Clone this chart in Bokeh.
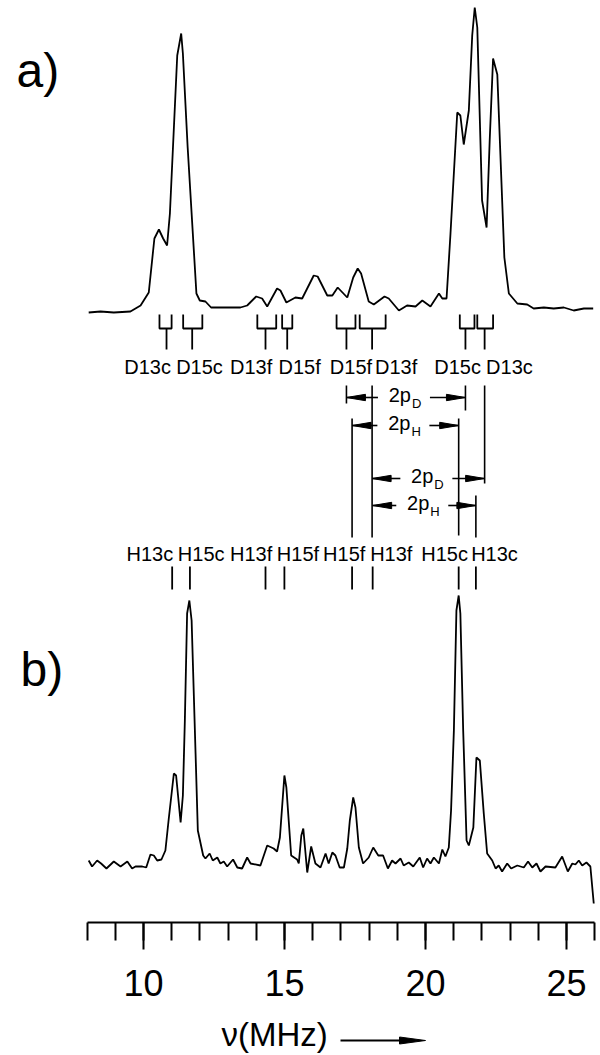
from bokeh.plotting import figure
from bokeh.models import Range1d, LinearAxis, SingleIntervalTicker
from bokeh.core.properties import value
from bokeh.embed import file_html
from bokeh.resources import INLINE

# ---------------- data ----------------
# spectrum a): frequency (MHz) and intensity (arbitrary units)
a_freq = [8.06, 8.48, 8.95, 9.54, 9.90, 10.19, 10.39, 10.55, 10.70, 10.84,
          10.94, 11.20, 11.34, 11.40, 11.57, 11.88, 12.00, 12.20, 12.40, 12.85,
          13.44, 13.68, 14.00, 14.21, 14.39, 14.74, 14.86, 15.07, 15.39, 15.63,
          16.04, 16.18, 16.52, 16.70, 16.89, 17.23, 17.44, 17.60, 17.72, 17.99,
          18.17, 18.55, 18.70, 19.06, 19.35, 19.65, 19.89, 20.18, 20.48, 20.60,
          20.75, 20.89, 21.13, 21.24, 21.36, 21.54, 21.66, 21.75, 21.84, 22.01,
          22.17, 22.28, 22.40, 22.55, 22.80, 22.96, 23.26, 23.61, 23.84, 24.20,
          24.55, 24.91, 25.26, 25.62, 25.95]
a_int = [0, 1, 0, 1, 7, 20, 74, 83, 74, 67,
         99, 257, 279, 259, 165, 19, 12, 11, 5, 5,
         5, 7, 16, 14, 6, 24, 22, 10, 15, 14,
         37, 36, 17, 17, 25, 15, 35, 44, 39, 11,
         8, 16, 14, 2, 7, 6, 12, 6, 19, 14,
         14, 79, 200, 197, 168, 202, 277, 305, 285, 112,
         85, 172, 254, 238, 55, 19, 9, 8, 4, 5,
         4, 5, 2, 4, 4]

# spectrum b)
b_freq = [8.06, 8.18, 8.36, 8.50, 8.69, 8.95, 9.19, 9.43, 9.60, 9.72,
          9.96, 10.10, 10.25, 10.37, 10.49, 10.64, 10.78, 10.90, 11.08, 11.16,
          11.32, 11.40, 11.47, 11.55, 11.63, 11.71, 11.85, 11.93, 12.12, 12.20,
          12.35, 12.46, 12.62, 12.73, 12.85, 12.97, 13.18, 13.33, 13.50, 13.68,
          13.80, 14.15, 14.39, 14.62, 14.74, 14.84, 15.00, 15.07, 15.24, 15.45,
          15.51, 15.60, 15.67, 15.81, 15.95, 16.10, 16.28, 16.46, 16.57, 16.70,
          16.81, 16.96, 17.11, 17.23, 17.32, 17.44, 17.52, 17.64, 17.79, 17.99,
          18.15, 18.33, 18.50, 18.67, 18.82, 18.94, 19.12, 19.23, 19.41, 19.57,
          19.80, 19.92, 20.06, 20.18, 20.30, 20.48, 20.60, 20.71, 20.83, 20.91,
          21.01, 21.10, 21.18, 21.24, 21.34, 21.46, 21.54, 21.70, 21.81, 21.93,
          22.07, 22.19, 22.37, 22.49, 22.60, 22.72, 22.90, 23.04, 23.26, 23.49,
          23.64, 23.79, 23.94, 24.08, 24.26, 24.61, 24.85, 25.05, 25.21, 25.32,
          25.44, 25.56, 25.71, 25.85, 25.97]
b_int = [10, 4, 10, 7, 2, 9, 4, 9, 2, 4,
         4, 3, 16, 15, 10, 11, 20, 52, 97, 95,
         48, 75, 150, 257, 270, 250, 117, 40, 15, 12,
         17, 10, 13, 7, 9, 4, 11, 3, 2, 13,
         7, 5, 25, 22, 19, 33, 95, 83, 15, 11,
         7, 35, 42, -2, 24, 7, 3, 17, 7, 18,
         15, 3, 3, 22, 50, 73, 63, 23, 7, 13,
         23, 15, 15, 2, 10, 7, 12, 5, 8, 4,
         13, 3, 12, 7, 13, 7, 21, 14, 23, 60,
         140, 260, 275, 257, 140, 30, 25, 43, 113, 110,
         57, 17, 10, 2, 5, -1, 7, 2, 5, 3,
         9, 3, 7, -1, 4, 3, 14, -1, 7, 6,
         10, 5, 8, 4, -33]

# D assignments (doublets): lower line, upper line, centre, label position (MHz)
d_names = ["D13c", "D15c", "D13f", "D15f", "D15f", "D13f", "D15c", "D13c"]
d_low = [10.57, 11.41, 14.04, 14.92, 16.85, 17.67, 21.22, 21.84]
d_high = [11.00, 12.09, 14.71, 15.28, 17.52, 18.59, 21.74, 22.40]
d_center = [10.82, 11.73, 14.33, 15.10, 17.20, 18.11, 21.42, 22.10]
d_label_at = [10.15, 11.99, 13.82, 15.54, 17.36, 18.96, 21.14, 22.98]

# H assignments
h_names = ["H13c", "H15c", "H13f", "H15f", "H15f", "H13f", "H15c", "H13c"]
h_freq = [11.02, 11.65, 14.33, 15.00, 17.40, 18.13, 21.18, 21.79]
h_label_at = [10.23, 12.05, 13.82, 15.48, 17.12, 18.79, 20.68, 22.45]

# 2p splittings (from, to in MHz)
split_sub = ["D", "H", "D", "H"]
split_from = [17.20, 17.40, 18.11, 18.13]
split_to = [21.42, 21.18, 22.10, 21.79]

axis_start, axis_end = 8, 26
axis_major, axis_minor_count = 5, 5

# ---------------- layout (pixels) ----------------
W, H = 600, 1055
PX = 28.2          # pixels per MHz
X8 = 86.5          # pixel position of 8 MHz
A_BASE, B_BASE, AXIS_Y = 312, 870, 922
FONT = value("Liberation Sans")


def mhz(px):
    return axis_start + (px - X8) / PX


p = figure(width=W, height=H, x_range=Range1d(mhz(0), mhz(W)),
           y_range=Range1d(H, 0), x_axis_type=None, y_axis_type=None,
           toolbar_location=None, output_backend="svg", title=None,
           min_border=0, min_border_left=0, min_border_right=0,
           min_border_top=0, min_border_bottom=0, outline_line_color=None,
           background_fill_color="white", border_fill_color="white")
p.extra_y_ranges = {"a": Range1d(A_BASE - H, A_BASE),
                    "b": Range1d(B_BASE - H, B_BASE)}

LW = 1.8
p.line(a_freq, a_int, y_range_name="a", line_color="black", line_width=LW)
p.line(b_freq, b_int, y_range_name="b", line_color="black", line_width=LW)

# panel letters
p.text(x=[mhz(16), mhz(20)], y=[70, 669], text=["a)", "b)"],
       text_font=FONT, text_font_size="48px", text_color="black",
       text_align="left", text_baseline="middle")

# D brackets
BR_TOP, BR_BOT, STEM_BOT = 314, 328, 349
p.multi_line(xs=[[lo, lo, hi, hi] for lo, hi in zip(d_low, d_high)],
             ys=[[BR_TOP, BR_BOT, BR_BOT, BR_TOP]] * len(d_low),
             line_color="black", line_width=LW)
p.segment(x0=d_center, y0=[BR_BOT] * len(d_center), x1=d_center,
          y1=[STEM_BOT] * len(d_center), line_color="black", line_width=LW)
p.text(x=d_label_at, y=[366] * len(d_names), text=d_names, text_font=FONT,
       text_font_size="20px", text_color="black", text_align="center",
       text_baseline="middle")

# H labels and ticks
p.text(x=h_label_at, y=[553] * len(h_names), text=h_names, text_font=FONT,
       text_font_size="20px", text_color="black", text_align="center",
       text_baseline="middle")
p.segment(x0=h_freq, y0=[566] * len(h_freq), x1=h_freq, y1=[589] * len(h_freq),
          line_color="black", line_width=LW)

# connecting vertical lines
ROWS = [397, 425, 478, 505]
conn_x = [split_from[0], split_to[0], split_from[1], split_to[1],
          split_from[2], split_to[2], split_to[3]]
conn_top = [385, 385, 418, 418, 385, 385, 495]
conn_bot = [403, 410, 537, 535, 537, 483, 537]
p.segment(x0=conn_x, y0=conn_top, x1=conn_x, y1=conn_bot,
          line_color="black", line_width=1.6)

# 2p arrows
HEAD_L, HEAD_W = 19, 3.2
seg_x0, seg_x1, seg_y = [], [], []
head_xs, head_ys = [], []
t_x, t_y, s_x, s_y, s_txt = [], [], [], [], []
for sub, f0, f1, row in zip(split_sub, split_from, split_to, ROWS):
    mid = (f0 + f1) / 2 + 5 / PX
    seg_x0 += [f0, mid + 19 / PX]
    seg_x1 += [mid - 33 / PX, f1]
    seg_y += [row, row]
    head_xs += [[f0, f0 + HEAD_L / PX, f0 + HEAD_L / PX],
                [f1, f1 - HEAD_L / PX, f1 - HEAD_L / PX]]
    head_ys += [[row, row - HEAD_W, row + HEAD_W]] * 2
    t_x.append(mid)
    t_y.append(row - 3)
    s_x.append(mid + 1 / PX)
    s_y.append(row + 6)
    s_txt.append(sub)
p.segment(x0=seg_x0, y0=seg_y, x1=seg_x1, y1=seg_y, line_color="black",
          line_width=1.6)
p.patches(xs=head_xs, ys=head_ys, fill_color="black", line_color="black",
          line_width=1)
p.text(x=t_x, y=t_y, text=["2p"] * len(t_x), text_font=FONT,
       text_font_size="20px", text_color="black", text_align="right",
       text_baseline="middle")
p.text(x=s_x, y=s_y, text=s_txt, text_font=FONT, text_font_size="13px",
       text_color="black", text_align="left", text_baseline="middle")

# frequency axis
ax = LinearAxis(ticker=SingleIntervalTicker(interval=axis_major,
                                            num_minor_ticks=axis_minor_count),
                fixed_location=AXIS_Y, bounds=(axis_start, axis_end),
                axis_line_color="black", axis_line_width=2,
                major_tick_in=0, major_tick_out=27, major_tick_line_width=2,
                minor_tick_in=0, minor_tick_out=18, minor_tick_line_width=2,
                major_label_text_font="Liberation Sans",
                major_label_text_font_size="36px",
                major_label_text_color="black", major_label_standoff=20)
p.add_layout(ax, "below")

# axis title with arrow
p.text(x=[mhz(221)], y=[1034], text=["ν(MHz)"], text_font=FONT,
       text_font_size="33px", text_color="black", text_align="left",
       text_baseline="middle")
AR_Y = 1040
p.segment(x0=[mhz(340)], y0=[AR_Y], x1=[mhz(402)], y1=[AR_Y],
          line_color="black", line_width=2)
p.patch(x=[mhz(425), mhz(399), mhz(399)], y=[AR_Y, AR_Y - 3.5, AR_Y + 3.5],
        fill_color="black", line_color="black", line_width=1)

open("out.html", "w").write(file_html(p, INLINE))
